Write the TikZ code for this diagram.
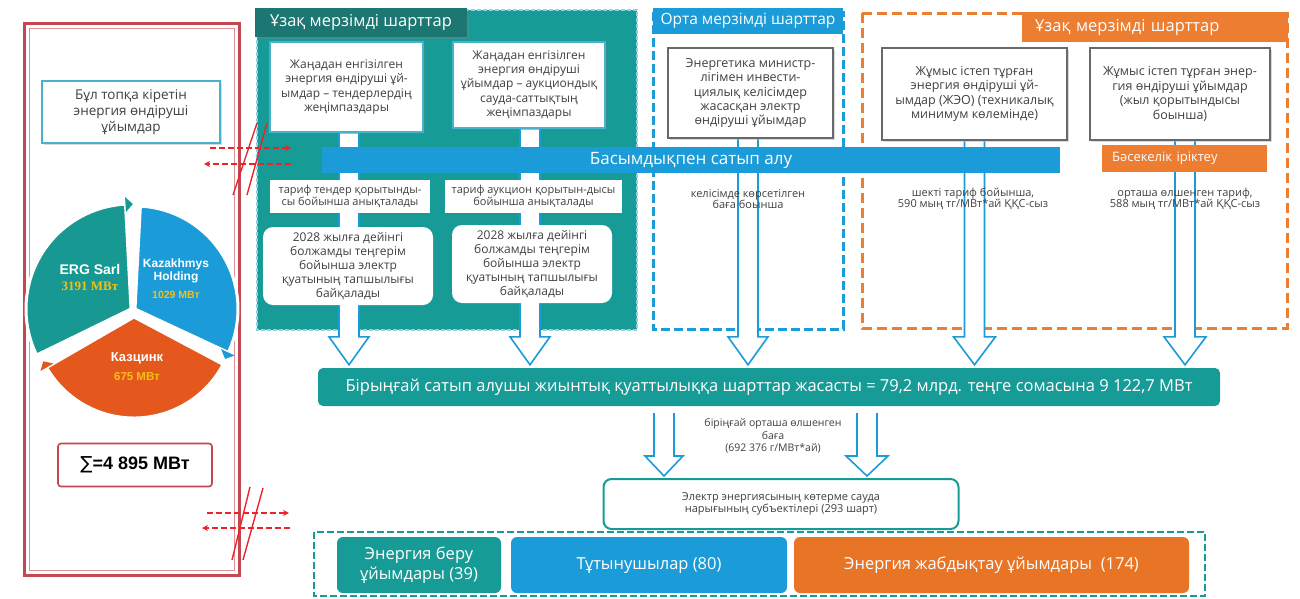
\documentclass[tikz,border=0pt]{standalone}
\usepackage{fontspec}
\setmainfont{Open Sans}
\newfontfamily\arialf{Liberation Sans}
\newfontfamily\seriff{Liberation Serif}
\newfontfamily\djvf{DejaVu Sans}
\usetikzlibrary{calc,shadows,positioning,arrows.meta}
\definecolor{tealc}{RGB}{22,155,150}
\definecolor{tealdark}{RGB}{28,118,114}
\definecolor{bluec}{RGB}{27,155,215}
\definecolor{orangec}{RGB}{237,125,49}
\definecolor{orangebox}{RGB}{232,116,37}
\definecolor{pteal}{RGB}{24,152,146}
\definecolor{pblue}{RGB}{27,155,215}
\definecolor{porange}{RGB}{228,88,30}
\definecolor{pyellow}{RGB}{245,192,20}
\definecolor{redc}{RGB}{236,35,40}
\definecolor{panelred}{RGB}{196,70,80}
\definecolor{lblue}{RGB}{72,178,205}
\definecolor{graybd}{RGB}{105,105,105}
\definecolor{txtgray}{RGB}{64,64,64}

\pgfdeclarelayer{back}
\pgfdeclarelayer{arr}
\pgfsetlayers{back,arr,main}

\newcommand{\fs}[2]{\fontsize{#1}{#2}\selectfont}
% hollow arrow: start, tip, head length, half head width
\newcommand{\hollowarr}[4]{%
  \draw[hollow] ($(#1)+(-10,0)$) -- ($(#2)+(-10,-#3)$) -- ($(#2)+(-#4,-#3)$) -- (#2)
    -- ($(#2)+(#4,-#3)$) -- ($(#2)+(10,-#3)$) -- ($(#1)+(10,0)$);}

\begin{document}
\begin{tikzpicture}[x=1pt, y=-1pt]
            % Styles
            \tikzstyle{wbox} = [rectangle, draw=lblue, line width=2.5pt, fill=white, text=txtgray, align=center, inner sep=0pt, drop shadow={shadow xshift=1.5pt, shadow yshift=-1.5pt, opacity=0.3}]
            \tikzstyle{gbox} = [wbox, draw=graybd]
            \tikzstyle{wplain} = [rectangle, fill=white, text=txtgray, align=center, inner sep=0pt]
            \tikzstyle{wround} = [wplain, rounded corners=10pt]
            \tikzstyle{tabhead} = [rectangle, text=white, inner sep=0pt, font=\fs{16.5}{18}]
            \tikzstyle{txt} = [text=txtgray, align=center, inner sep=0pt, font=\fs{11}{11.5}]
            \tikzstyle{colbox} = [rectangle, rounded corners=6pt, text=white, align=center, inner sep=0pt, minimum height=56pt, font=\fs{16.5}{20}]
            \tikzstyle{hollow} = [draw=bluec, line width=1.6pt, fill=white]
            \tikzstyle{reddash} = [draw=redc, line width=1.6pt, dash pattern=on 6pt off 3pt, -{Stealth[length=6pt,width=6pt]}]
            \tikzstyle{slash} = [draw=redc, line width=1.4pt]
            \tikzstyle{pielbl} = [font=\arialf\bfseries, text=white, align=center, inner sep=0pt]
            \tikzstyle{pieval} = [font=\arialf\bfseries, text=pyellow, inner sep=0pt]

            \useasboundingbox (0,0) rectangle (1300,598);

            % Frames
            \begin{pgfonlayer}{back}
            \fill[tealc] (257,10) rectangle (637,330);
            \draw[lblue!60!white, line width=1.5pt, dash pattern=on 4pt off 2pt] (257,10) rectangle (637,330);
            \draw[bluec, line width=3pt, dash pattern=on 9pt off 4pt] (653,12) rectangle (843,329);
            \draw[orangec, line width=3pt, dash pattern=on 10pt off 5pt] (862,13) rectangle (1287,328);
            \draw[tealc, line width=2.5pt, dash pattern=on 7pt off 3pt] (314,532) rectangle (1205,596);
            \end{pgfonlayer}

            % Left panel
            \draw[panelred, line width=3pt] (24,23) rectangle (239,575);
            \draw[panelred!60!white, line width=1pt] (29,28) rectangle (234,570);
            \node[wbox, minimum width=178pt, minimum height=62pt, font=\fs{13.5}{16}] (group) at (131,112) {Бұл топқа кіретін\\энергия өндіруші\\ұйымдар};

            % Pie
            \begin{scope}[shift={(133,310)}, yscale=-1]
                \fill[pteal, draw=white, line width=3pt] (-2,1) -- +(93:105) arc[start angle=93, end angle=206, radius=105] -- cycle;
                \fill[pteal] ($(-2,1)+(93:97)$) -- ($(-2,1)+(93:112)$) -- ($(-2,1)+(89:105)$) -- cycle;
                \fill[pblue, draw=white, line width=3pt] (2,1) -- +(87:103) arc[start angle=87, end angle=-25, radius=103] -- cycle;
                \fill[pblue] ($(2,1)+(-25:95)$) -- ($(2,1)+(-25:110)$) -- ($(2,1)+(-29:103)$) -- cycle;
                \fill[porange, draw=white, line width=3pt] (1,-7) -- +(-28:101) arc[start angle=-28, end angle=-150, radius=101] -- cycle;
                \fill[porange] ($(1,-7)+(210:93)$) -- ($(1,-7)+(210:108)$) -- ($(1,-7)+(206:101)$) -- cycle;
            \end{scope}
            \node[pielbl, font=\arialf\bfseries\fs{14}{16}] (erg) at (90,269) {ERG Sarl};
            \node[pieval, font=\seriff\bfseries\fs{13}{15}, below=7pt of erg] {3191 МВт};
            \node[pielbl, font=\arialf\bfseries\fs{12}{13.5}] (kaz) at (176,271) {Kazakhmys\\Holding};
            \node[pieval, font=\arialf\bfseries\fs{10.5}{12}, below=7pt of kaz] {1029 МВт};
            \node[pielbl, font=\arialf\bfseries\fs{13}{15}] (kzc) at (137,358) {Казцинк};
            \node[pieval, font=\arialf\bfseries\fs{11.5}{13}, below=8pt of kzc] {675 МВт};

            \node[draw=panelred, line width=1.6pt, rounded corners=3pt, fill=white, minimum width=154pt, minimum height=43pt, inner sep=0pt, font=\arialf\bfseries\fs{18}{20}] (sum) at (135,465) {{\djvf\mdseries ∑}=4 895 МВт};

            % Red links
            \coordinate (ra1) at (210,148); \coordinate (ra2) at (291,148);
            \coordinate (rb1) at (291,164); \coordinate (rb2) at (204,164);
            \draw[reddash] (ra1) -- (ra2);
            \draw[reddash] (rb1) -- (rb2);
            \draw[slash] (233,195) -- (257,123);
            \draw[slash] (247,195) -- (267,123);
            \coordinate (rc1) at (207,513); \coordinate (rc2) at (289,513);
            \coordinate (rd1) at (290,528); \coordinate (rd2) at (202,528);
            \draw[reddash] (rc1) -- (rc2);
            \draw[reddash] (rd1) -- (rd2);
            \draw[slash] (232,560) -- (250,487);
            \draw[slash] (243,560) -- (263,488);

            % Headers
            \node[tabhead, fill=tealdark, minimum width=212pt, minimum height=29pt, drop shadow={shadow xshift=1.5pt, shadow yshift=-1.5pt, opacity=0.3}] (tabL) at (361,22.5) {Ұзақ мерзімді шарттар};
            \node[tabhead, fill=bluec, minimum width=190pt, minimum height=26pt, font=\fs{15.5}{17}] (tabM) at (748,21) {Орта мерзімді шарттар};
            \node[tabhead, fill=orangec, anchor=west, text width=240pt, align=left, inner xsep=13pt, minimum height=30pt] (tabR) at (1022,27) {Ұзақ мерзімді шарттар};

            % Long-term (teal)
            \node[wbox, minimum width=153pt, minimum height=90pt, font=\fs{12}{14.3}] (new1) at (346.5,87) {Жаңадан енгізілген\\энергия өндіруші ұй-\\ымдар – тендерлердің\\жеңімпаздары};
            \node[wbox, minimum width=152pt, minimum height=86pt, font=\fs{12}{14.3}] (new2) at (529,85) {Жаңадан енгізілген\\энергия өндіруші\\ұйымдар – аукциондық\\сауда-саттықтың\\жеңімпаздары};
            \node[wplain, minimum width=160pt, minimum height=33pt, font=\fs{11}{11.5}] (tar1) at (350,196.5) {тариф тендер қорытынды-\\сы бойынша анықталады};
            \node[wplain, minimum width=177pt, minimum height=33pt, font=\fs{11}{11.5}] (tar2) at (533.5,196.5) {тариф аукцион қорытын-дысы\\бойынша анықталады};
            \node[wround, minimum width=170pt, minimum height=78pt, font=\fs{12}{14}] (def1) at (348,266) {2028 жылға дейінгі\\болжамды теңгерім\\бойынша электр\\қуатының тапшылығы\\байқалады};
            \node[wround, minimum width=160pt, minimum height=78pt, font=\fs{12}{14}] (def2) at (532,264) {2028 жылға дейінгі\\болжамды теңгерім\\бойынша электр\\қуатының тапшылығы\\байқалады};

            % Mid-term (blue)
            \node[gbox, minimum width=165pt, minimum height=90pt, font=\fs{12.5}{14.2}] (invest) at (750.5,93) {Энергетика министр-\\лігімен инвести-\\циялық келісімдер\\жасасқан электр\\өндіруші ұйымдар};
            \node[txt] (invtxt) at (748,199) {келісімде көрсетілген\\баға боынша};

            % Long-term (orange)
            \node[gbox, minimum width=185pt, minimum height=92pt, font=\fs{12.5}{14.5}] (tpp) at (974.5,94) {Жұмыс істеп тұрған\\энергия өндіруші ұй-\\ымдар (ЖЭО) (техникалық\\минимум көлемінде)};
            \node[gbox, minimum width=180pt, minimum height=92pt, font=\fs{12.5}{14.5}] (yearly) at (1180,94) {Жұмыс істеп тұрған энер-\\гия өндіруші ұйымдар\\(жыл қорытындысы\\боынша)};
            \node[rectangle, fill=orangec, text=white, anchor=west, text width=145pt, align=left, inner xsep=10pt, minimum height=27pt, font=\fs{13}{15}] (select) at (1102,158.5) {Бәсекелік іріктеу};
            \node[txt] (captxt) at (973,199) {шекті тариф бойынша,\\590 мың тг/МВт*ай ҚҚС-сыз};
            \node[txt] (avgtxt) at (1185,199) {орташа өлшенген тариф,\\588 мың тг/МВт*ай ҚҚС-сыз};

            % Priority bar
            \node[rectangle, fill=bluec, minimum width=738pt, minimum height=26pt, text=white, font=\fs{17}{19}] (prio) at (691,160) {Басымдықпен сатып алу};

            % Single buyer
            \node[rectangle, rounded corners=5pt, fill=tealc, minimum width=902pt, minimum height=38pt, text=white, font=\fs{16.5}{18}] (single) at (769,387) {Бірыңғай сатып алушы жиынтық қуаттылыққа шарттар жасасты = 79,2 млрд. теңге сомасына 9 122,7 МВт};
            \node[txt, font=\fs{10.5}{12.5}] (price) at (773,436) {біріңғай орташа өлшенген\\баға\\(692 376 г/МВт*ай)};
            \node[rectangle, rounded corners=8pt, draw=tealc, line width=2pt, fill=white, minimum width=355pt, minimum height=50pt, text=txtgray, align=center, font=\fs{11}{11.7}] (market) at (781,504) {Электр энергиясының көтерме сауда\\нарығының субъектілері (293 шарт)};

            % Market members
            \node[colbox, fill=tealc, minimum width=164pt] (grid) at (419,565) {Энергия беру\\ұйымдары (39)};
            \node[colbox, fill=bluec, minimum width=276pt] (cons) at (649,565) {Тұтынушылар (80)};
            \node[colbox, fill=orangebox, minimum width=395pt] (supply) at (991.5,565) {Энергия жабдықтау ұйымдары~~(174)};

            % Arrows
            \path (new1.south |- single.north) ++(2.5,-3) coordinate (t1);
            \path (new1.south) ++(2.5,0) coordinate (s1);
            \path (new2.south |- single.north) ++(1,-3) coordinate (t2);
            \path (new2.south) ++(1,0) coordinate (s2);
            \path (invest.south |- single.north) ++(-2.5,-3) coordinate (t3);
            \path (invest.south) ++(-2.5,0) coordinate (s3);
            \path (tpp.south |- single.north) ++(0,-3) coordinate (t4);
            \path (yearly.south |- single.north) ++(5,-3) coordinate (t5);
            \path (yearly.south) ++(5,0) coordinate (s5);
            \path (single.south) ++(-105,7) coordinate (s6);
            \path (s6 |- market.north) ++(0,-2) coordinate (t6);
            \path (single.south) ++(98,7) coordinate (s7);
            \path (s7 |- market.north) ++(0,-2) coordinate (t7);
            \begin{pgfonlayer}{arr}
            \hollowarr{s1}{t1}{28}{20}
            \hollowarr{s2}{t2}{28}{20}
            \hollowarr{s3}{t3}{28}{20}
            \hollowarr{tpp.south}{t4}{28}{21}
            \hollowarr{s5}{t5}{28}{21}
            \hollowarr{s6}{t6}{20}{19}
            \hollowarr{s7}{t7}{20}{21}
            \end{pgfonlayer}
        \end{tikzpicture}
\end{document}
